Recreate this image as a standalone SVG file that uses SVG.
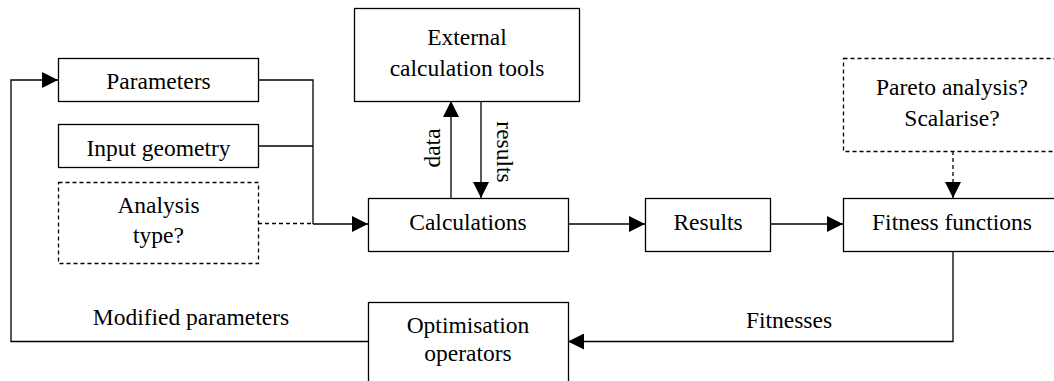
<svg xmlns="http://www.w3.org/2000/svg" width="1054" height="381" viewBox="0 0 1054 381">
<defs>
<marker id="ah" viewBox="0 0 16 16" refX="16" refY="8" markerWidth="16" markerHeight="16" markerUnits="userSpaceOnUse" orient="auto">
<path d="M0,0 L16,8 L0,16 Z" fill="#000"/>
</marker>
<style>
.box{fill:#fff;stroke:#000;stroke-width:1.3}
.dbox{fill:#fff;stroke:#000;stroke-width:1.3;stroke-dasharray:4,3}
.ln{fill:none;stroke:#000;stroke-width:1.3}
.dln{fill:none;stroke:#000;stroke-width:1.3;stroke-dasharray:4,3}
</style>
</defs>
<rect width="1054" height="381" fill="#fff"/>
<g font-family="'Liberation Serif', 'Times New Roman', serif" font-size="23.5" fill="#000" text-anchor="middle">
<g id="connectors">
<polyline class="ln" points="368,341.5 11,341.5 11,80 58,80" marker-end="url(#ah)"/>
<polyline class="ln" points="258,80 313,80 313,224"/>
<polyline class="ln" points="258,146 313,146"/>
<polyline class="dln" points="258,223.5 313,223.5"/>
<polyline class="ln" points="313,224 368,224" marker-end="url(#ah)"/>
<polyline class="ln" points="451,198 451,101" marker-end="url(#ah)"/>
<polyline class="ln" points="481,101 481,198" marker-end="url(#ah)"/>
<polyline class="ln" points="568,224 645,224" marker-end="url(#ah)"/>
<polyline class="ln" points="770,224 843,224" marker-end="url(#ah)"/>
<polyline class="dln" points="953,151 953,182"/>
<polyline class="ln" points="953,182 953,198" marker-end="url(#ah)"/>
<polyline class="ln" points="953,252 953,341.5 568,341.5" marker-end="url(#ah)"/>
<text x="440" y="148" transform="rotate(-90 440 148)">data</text>
<text x="497" y="152" transform="rotate(90 497 152)">results</text>
<text x="191" y="325">Modified parameters</text>
<text x="789" y="328">Fitnesses</text>
</g>
<g id="parameters">
<rect class="box" x="58.5" y="58.5" width="200" height="43"/>
<text x="158.5" y="89">Parameters</text>
</g>
<g id="input-geometry">
<rect class="box" x="58.5" y="124.5" width="200" height="43"/>
<text x="158.5" y="156">Input geometry</text>
</g>
<g id="analysis-type">
<rect class="dbox" x="58.5" y="182.5" width="200" height="81"/>
<text x="158.5" y="213">Analysis</text>
<text x="158.5" y="243">type?</text>
</g>
<g id="external-tools">
<rect class="box" x="354.5" y="8.5" width="225" height="93"/>
<text x="467" y="45">External</text>
<text x="467" y="76">calculation tools</text>
</g>
<g id="calculations">
<rect class="box" x="368.5" y="198.5" width="200" height="53"/>
<text x="468" y="230">Calculations</text>
</g>
<g id="results">
<rect class="box" x="645.5" y="198.5" width="125" height="53"/>
<text x="708" y="230">Results</text>
</g>
<g id="pareto">
<rect class="dbox" x="843.5" y="58.5" width="219" height="93"/>
<text x="952" y="95">Pareto analysis?</text>
<text x="952" y="126">Scalarise?</text>
</g>
<g id="fitness-functions">
<rect class="box" x="843.5" y="198.5" width="219" height="53"/>
<text x="952" y="230">Fitness functions</text>
</g>
<g id="optimisation">
<rect class="box" x="368.5" y="302.5" width="200" height="95"/>
<text x="468" y="333">Optimisation</text>
<text x="468" y="361">operators</text>
</g>
</g>
</svg>
